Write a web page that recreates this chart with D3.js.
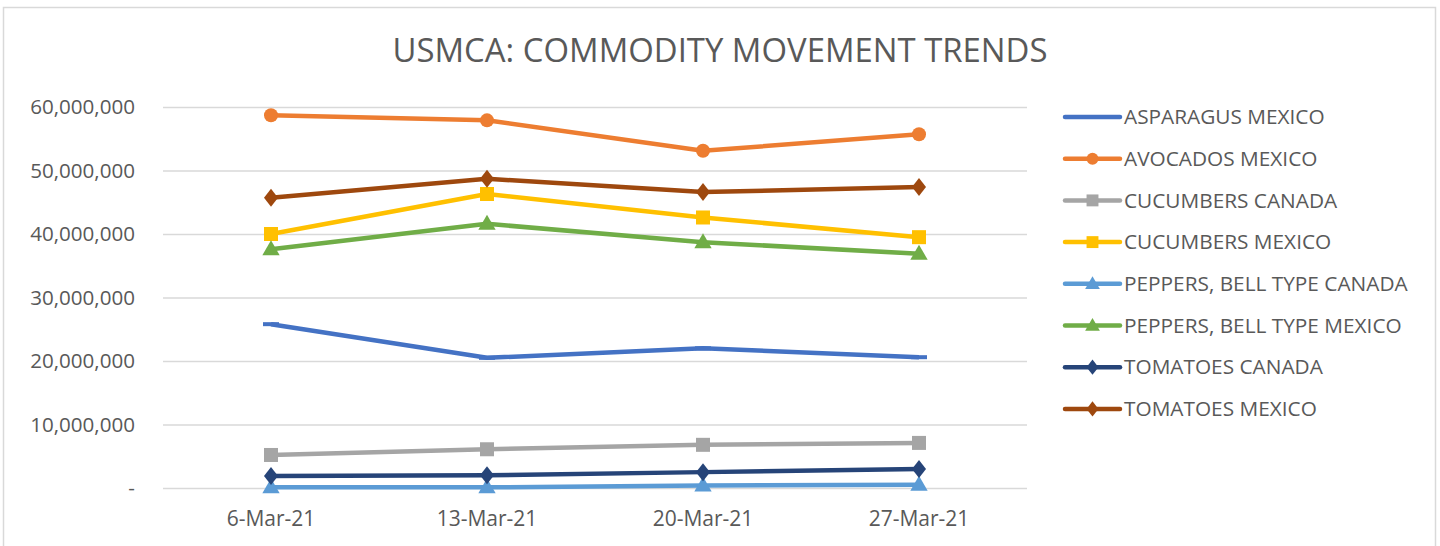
<!DOCTYPE html>
<html>
<head>
<meta charset="utf-8">
<script src="https://cdnjs.cloudflare.com/ajax/libs/d3/7.8.5/d3.min.js"></script>
<style>
	html, body { margin: 0; padding: 0; background: #fff; }
	svg { display: block; font-family: 'Open Sans', sans-serif; }
</style>
</head>
<body>
<svg id="chart" width="1440" height="546"></svg>
<script>
// chart values
const weeks = ['6-Mar-21', '13-Mar-21', '20-Mar-21', '27-Mar-21'];
const seriesNames = [
	'ASPARAGUS MEXICO',
	'AVOCADOS MEXICO',
	'CUCUMBERS CANADA',
	'CUCUMBERS MEXICO',
	'PEPPERS, BELL TYPE CANADA',
	'PEPPERS, BELL TYPE MEXICO',
	'TOMATOES CANADA',
	'TOMATOES MEXICO'
];
const asparagusMexico = [25800000, 20500000, 22000000, 20600000];
const avocadosMexico = [58700000, 57900000, 53100000, 55700000];
const cucumbersCanada = [5200000, 6100000, 6800000, 7100000];
const cucumbersMexico = [40000000, 46300000, 42600000, 39500000];
const peppersCanada = [100000, 100000, 400000, 500000];
const peppersMexico = [37600000, 41600000, 38700000, 36900000];
const tomatoesCanada = [1900000, 2000000, 2500000, 3000000];
const tomatoesMexico = [45700000, 48700000, 46600000, 47400000];
const yTicks = [0, 10000000, 20000000, 30000000, 40000000, 50000000, 60000000];

const colors = ['#4472C4', '#ED7D31', '#A5A5A5', '#FFC000', '#5B9BD5', '#70AD47', '#264478', '#9E480E'];
const markers = ['dash', 'circle', 'square', 'square', 'triangle', 'triangle', 'diamond', 'diamond'];

const series = [asparagusMexico, avocadosMexico, cucumbersCanada, cucumbersMexico,
	peppersCanada, peppersMexico, tomatoesCanada, tomatoesMexico].map(function(values, i) {
	return { name: seriesNames[i], values: values, color: colors[i], marker: markers[i] };
});

const svg = d3.select('#chart');
const plot = { left: 163, right: 1027, top: 107, bottom: 488 };
const textColor = '#595959';

// outer frame
svg.append('rect')
	.attr('x', 3.5).attr('y', 7.5)
	.attr('width', 1432).attr('height', 560)
	.attr('fill', 'none')
	.attr('stroke', '#d9d9d9')
	.attr('stroke-width', 1.5);

svg.append('text')
	.attr('x', 720).attr('y', 62)
	.attr('text-anchor', 'middle')
	.attr('font-size', 32)
	.attr('fill', textColor)
	.attr('textLength', 655)
	.attr('lengthAdjust', 'spacingAndGlyphs')
	.text('USMCA: COMMODITY MOVEMENT TRENDS');

let x = d3.scaleBand()
	.domain(weeks)
	.range([plot.left, plot.right]);

let y = d3.scaleLinear()
	.domain([0, 60000000])
	.range([plot.bottom, plot.top]);

// gridlines + y labels
let yAxis = svg.append('g')
	.attr('transform', 'translate(' + plot.left + ',0)')
	.call(d3.axisLeft(y)
		.tickValues(yTicks)
		.tickSize(-(plot.right - plot.left))
		.tickPadding(28)
		.tickFormat(function(d) { return d === 0 ? '-' : d3.format(',')(d); }));
yAxis.select('.domain').remove();
yAxis.selectAll('line').attr('stroke', '#d9d9d9').attr('stroke-width', 1.5);
yAxis.selectAll('text')
	.attr('font-size', 20.6)
	.attr('font-family', "'Open Sans', sans-serif")
	.attr('fill', textColor);

// x labels
let xAxis = svg.append('g')
	.attr('transform', 'translate(0,' + plot.bottom + ')')
	.call(d3.axisBottom(x).tickSize(0).tickPadding(23));
xAxis.select('.domain').remove();
xAxis.selectAll('text')
	.attr('font-size', 21)
	.attr('font-family', "'Open Sans', sans-serif")
	.attr('fill', textColor);

function cx(i) { return x(weeks[i]) + x.bandwidth() / 2; }

function drawMarker(g, type, color, px, py, scale) {
	let s = scale || 1;
	if (type === 'circle') {
		g.append('circle').attr('cx', px).attr('cy', py).attr('r', 7 * s).attr('fill', color);
	} else if (type === 'square') {
		g.append('rect').attr('x', px - 7 * s).attr('y', py - 7 * s)
			.attr('width', 14 * s).attr('height', 14 * s).attr('fill', color);
	} else if (type === 'triangle') {
		g.append('path')
			.attr('d', d3.symbol().type(d3.symbolTriangle).size(130 * s * s)())
			.attr('transform', 'translate(' + px + ',' + (py + 1) + ')')
			.attr('fill', color);
	} else if (type === 'diamond') {
		g.append('path')
			.attr('d', 'M0,' + (-9 * s) + 'L' + (7 * s) + ',0L0,' + (9 * s) + 'L' + (-7 * s) + ',0Z')
			.attr('transform', 'translate(' + px + ',' + py + ')')
			.attr('fill', color);
	} else if (type === 'dash') {
		g.append('rect').attr('x', px - 8 * s).attr('y', py - 2 * s)
			.attr('width', 16 * s).attr('height', 4 * s).attr('fill', color);
	}
}

let line = d3.line()
	.x(function(d, i) { return cx(i); })
	.y(function(d) { return y(d); });

let lines = svg.append('g');
series.forEach(function(s) {
	let g = lines.append('g');
	g.append('path')
		.attr('d', line(s.values))
		.attr('fill', 'none')
		.attr('stroke', s.color)
		.attr('stroke-width', 4.5)
		.attr('stroke-linejoin', 'round');
	s.values.forEach(function(v, i) {
		drawMarker(g, s.marker, s.color, cx(i), y(v));
	});
});

// legend
let legend = svg.append('g').attr('transform', 'translate(1065,117)');
series.forEach(function(s, i) {
	let row = legend.append('g').attr('transform', 'translate(0,' + (i * 41.7) + ')');
	row.append('line')
		.attr('x1', 0).attr('x2', 55)
		.attr('stroke', s.color)
		.attr('stroke-width', 4.5)
		.attr('stroke-linecap', 'round');
	if (s.marker !== 'dash') drawMarker(row, s.marker, s.color, 27.5, 0, 0.85);
	row.append('text')
		.attr('x', 59).attr('y', 0)
		.attr('dy', '0.35em')
		.attr('font-size', 20.8)
		.attr('fill', textColor)
		.text(s.name);
});
</script>
</body>
</html>
